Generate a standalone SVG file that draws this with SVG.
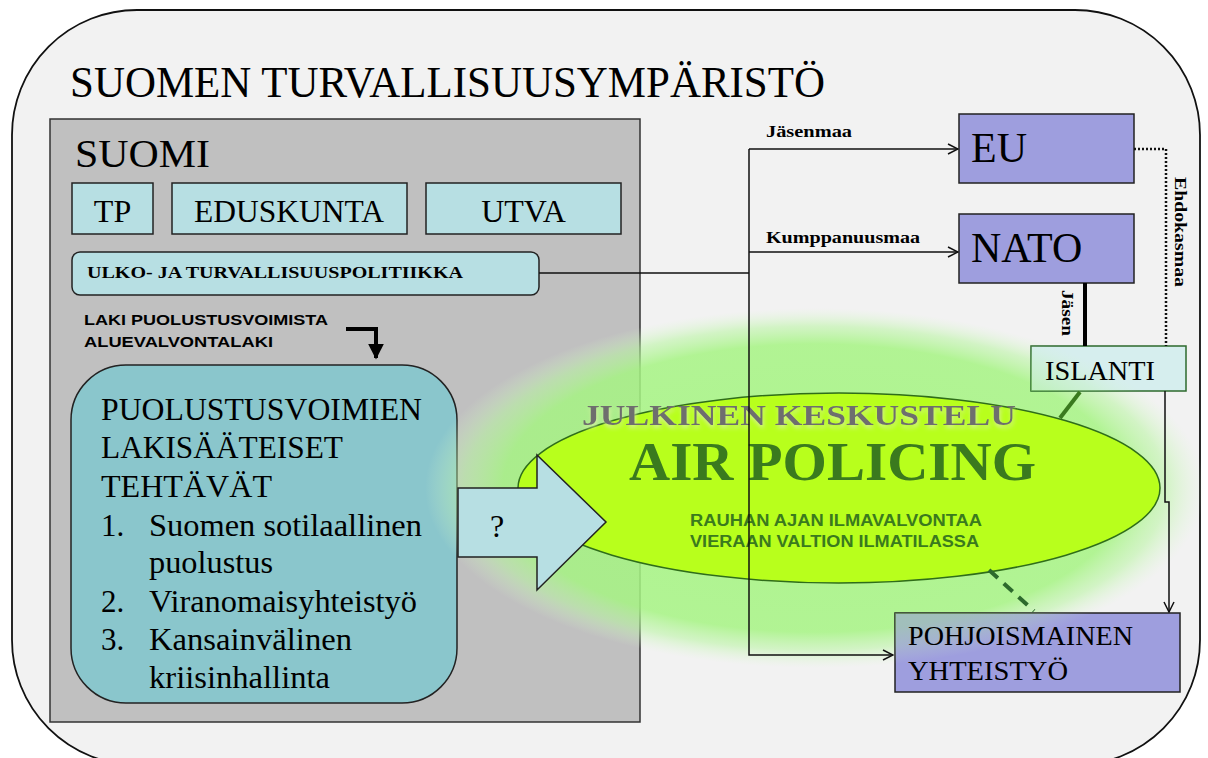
<svg xmlns="http://www.w3.org/2000/svg" width="1208" height="758" viewBox="0 0 1208 758">
<defs>
<style>
.serif{font-family:"Liberation Serif","Times New Roman",serif;fill:#000}
.sansb{font-family:"Liberation Sans",Arial,sans-serif;font-weight:bold}
.bl{font-family:"Liberation Serif","Times New Roman",serif;font-weight:bold;font-size:17px;fill:#000}
.cyan{fill:#b7dfe3;stroke:#222;stroke-width:1.5}
.blue{fill:#9e9ede;stroke:#222;stroke-width:1.5}
.conn{fill:none;stroke:#111;stroke-width:1.5}
</style>
<marker id="open" viewBox="0 0 12 12" refX="11" refY="6" markerWidth="12" markerHeight="12" markerUnits="userSpaceOnUse" orient="auto">
<path d="M1,1 L11,6 L1,11" fill="none" stroke="#111" stroke-width="1.5"/>
</marker>
<marker id="solid" viewBox="0 0 10 10" refX="9" refY="5" markerWidth="4" markerHeight="4" orient="auto">
<path d="M0,0 L10,5 L0,10 Z" fill="#000"/>
</marker>
<radialGradient id="glow" cx="0.5" cy="0.5" r="0.5">
<stop offset="0" stop-color="#a6f483" stop-opacity="0.9"/>
<stop offset="0.8" stop-color="#a6f483" stop-opacity="0.85"/>
<stop offset="0.9" stop-color="#b8f5a0" stop-opacity="0.55"/>
<stop offset="1" stop-color="#d8f8cc" stop-opacity="0"/>
</radialGradient>
<clipPath id="clipIs"><rect x="1031" y="346" width="155" height="45"/></clipPath>
<clipPath id="clipPo"><rect x="895" y="613" width="285" height="79"/></clipPath>
<filter id="shadow" x="-10%" y="-30%" width="120%" height="160%">
<feGaussianBlur in="SourceAlpha" stdDeviation="2"/>
<feOffset dx="1" dy="3" result="b"/>
<feFlood flood-color="#d8f0a0" flood-opacity="0.9"/>
<feComposite in2="b" operator="in" result="s"/>
<feMerge><feMergeNode in="s"/><feMergeNode in="SourceGraphic"/></feMerge>
</filter>
</defs>

<g id="outer">
<rect x="12" y="10" width="1188" height="755" rx="125" ry="125" fill="#f2f2f2" stroke="#111" stroke-width="1.8"/>
<text class="serif" x="70" y="97" font-size="44" textLength="755" lengthAdjust="spacingAndGlyphs">SUOMEN TURVALLISUUSYMPÄRISTÖ</text>
</g>

<g id="suomi">
<rect x="50" y="119" width="590" height="603" fill="#c0c0c0" stroke="#333" stroke-width="1.5"/>
<text class="serif" x="75" y="167" font-size="41" textLength="135" lengthAdjust="spacingAndGlyphs">SUOMI</text>
</g>

<g id="tp">
<rect class="cyan" x="72" y="183" width="81" height="51"/>
<text class="serif" x="112.5" y="222" font-size="32" text-anchor="middle">TP</text>
</g>
<g id="eduskunta">
<rect class="cyan" x="172" y="183" width="235" height="51"/>
<text class="serif" x="194" y="222" font-size="32" textLength="190" lengthAdjust="spacingAndGlyphs">EDUSKUNTA</text>
</g>
<g id="utva">
<rect class="cyan" x="426" y="183" width="195" height="51"/>
<text class="serif" x="523.5" y="222" font-size="32" text-anchor="middle">UTVA</text>
</g>

<g id="ulko">
<rect class="cyan" x="72" y="252" width="467" height="43" rx="8"/>
<text class="serif" x="87" y="278" font-size="17" font-weight="bold" textLength="376" lengthAdjust="spacingAndGlyphs">ULKO- JA TURVALLISUUSPOLITIIKKA</text>
</g>

<g id="laki">
<text class="sansb" x="84" y="325" font-size="15.5" textLength="244" lengthAdjust="spacingAndGlyphs">LAKI PUOLUSTUSVOIMISTA</text>
<text class="sansb" x="84" y="347" font-size="15.5" textLength="189" lengthAdjust="spacingAndGlyphs">ALUEVALVONTALAKI</text>
<path d="M346,329 H376 V358" fill="none" stroke="#000" stroke-width="4" marker-end="url(#solid)"/>
</g>

<g id="puolustusvoimat">
<rect x="71" y="365" width="386" height="338" rx="55" fill="#8ac6cc" stroke="#222" stroke-width="1.5"/>
<g class="serif" font-size="31">
<text x="101" y="420" textLength="321" lengthAdjust="spacingAndGlyphs">PUOLUSTUSVOIMIEN</text>
<text x="101" y="458" textLength="242" lengthAdjust="spacingAndGlyphs">LAKISÄÄTEISET</text>
<text x="101" y="497" textLength="171" lengthAdjust="spacingAndGlyphs">TEHTÄVÄT</text>
<text x="101" y="536">1.</text><text x="149" y="536" textLength="273" lengthAdjust="spacingAndGlyphs">Suomen sotilaallinen</text>
<text x="149" y="573" textLength="124" lengthAdjust="spacingAndGlyphs">puolustus</text>
<text x="101" y="612">2.</text><text x="149" y="612" textLength="268" lengthAdjust="spacingAndGlyphs">Viranomaisyhteistyö</text>
<text x="101" y="650">3.</text><text x="149" y="650" textLength="203" lengthAdjust="spacingAndGlyphs">Kansainvälinen</text>
<text x="149" y="688" textLength="181" lengthAdjust="spacingAndGlyphs">kriisinhallinta</text>
</g>
</g>

<g id="eu">
<rect class="blue" x="959" y="114" width="175" height="69"/>
<text class="serif" x="971" y="162" font-size="42">EU</text>
</g>
<g id="nato">
<rect class="blue" x="959" y="214" width="175" height="69"/>
<text class="serif" x="971" y="262" font-size="42">NATO</text>
</g>

<g id="glow-area">
<ellipse cx="815" cy="488" rx="390" ry="180" fill="url(#glow)"/>
</g>

<g id="islanti">
<rect x="1031" y="346" width="155" height="45" fill="#d6eeee" stroke="#2d6a2d" stroke-width="1.5"/>
<ellipse cx="815" cy="488" rx="390" ry="180" fill="url(#glow)" opacity="0.5" clip-path="url(#clipIs)"/>
<text class="serif" x="1045" y="380" font-size="27" textLength="110" lengthAdjust="spacingAndGlyphs">ISLANTI</text>
</g>
<g id="pohjoismainen">
<rect class="blue" x="895" y="613" width="285" height="79"/>
<ellipse cx="815" cy="488" rx="390" ry="180" fill="url(#glow)" opacity="0.45" clip-path="url(#clipPo)"/>
<text class="serif" x="908" y="645" font-size="28" textLength="225" lengthAdjust="spacingAndGlyphs">POHJOISMAINEN</text>
<text class="serif" x="908" y="680" font-size="28" textLength="160" lengthAdjust="spacingAndGlyphs">YHTEISTYÖ</text>
</g>

<g id="airpolicing">
<ellipse cx="839" cy="488" rx="321" ry="95" fill="#b8ff1c" stroke="#2f6d1a" stroke-width="1.5"/>
<text x="582" y="425" font-family="Liberation Serif,serif" font-weight="bold" font-size="30" fill="#6e6e6e" textLength="434" lengthAdjust="spacingAndGlyphs" filter="url(#shadow)">JULKINEN KESKUSTELU</text>
<text x="629" y="480" font-family="Liberation Serif,serif" font-weight="bold" font-size="55" fill="#3a7a1e" textLength="407" lengthAdjust="spacingAndGlyphs">AIR POLICING</text>
<text class="sansb" x="690" y="526" font-size="16" fill="#3a7a1e" textLength="292" lengthAdjust="spacingAndGlyphs">RAUHAN AJAN ILMAVALVONTAA</text>
<text class="sansb" x="690" y="547" font-size="16" fill="#3a7a1e" textLength="289" lengthAdjust="spacingAndGlyphs">VIERAAN VALTION ILMATILASSA</text>
</g>

<g id="connectors">
<path class="conn" d="M539,273 H749"/>
<path class="conn" d="M749,149 H958" marker-end="url(#open)"/>
<path class="conn" d="M749,149 V655 H893" marker-end="url(#open)"/>
<path class="conn" d="M749,252 H958" marker-end="url(#open)"/>
<text class="bl" x="766" y="137" textLength="86" lengthAdjust="spacingAndGlyphs">Jäsenmaa</text>
<text class="bl" x="766" y="243" textLength="154" lengthAdjust="spacingAndGlyphs">Kumppanuusmaa</text>
<path d="M1085,283 V346" stroke="#000" stroke-width="4" fill="none"/>
<text class="bl" transform="translate(1062,290) rotate(90)" textLength="46" lengthAdjust="spacingAndGlyphs">Jäsen</text>
<path d="M1134,149 H1166 V346" stroke="#111" stroke-width="2.5" stroke-dasharray="2,2" fill="none"/>
<text class="bl" transform="translate(1175,177) rotate(90)" textLength="110" lengthAdjust="spacingAndGlyphs">Ehdokasmaa</text>
<path class="conn" d="M1165,391 V502 H1169 V612" marker-end="url(#open)"/>
<path d="M1080,392 L1060,418" stroke="#3a7a1e" stroke-width="4" fill="none"/>
<path d="M989,570 L1034,611" stroke="#2d6a2d" stroke-width="4" stroke-dasharray="12,8" fill="none"/>
</g>

<g id="arrow">
<path d="M458,488 H537 V455 L606,522 L537,590 V557 H458 Z" fill="#b7dfe3" stroke="#222" stroke-width="1.5"/>
<text class="serif" x="497" y="537" font-size="32" text-anchor="middle">?</text>
</g>
</svg>
